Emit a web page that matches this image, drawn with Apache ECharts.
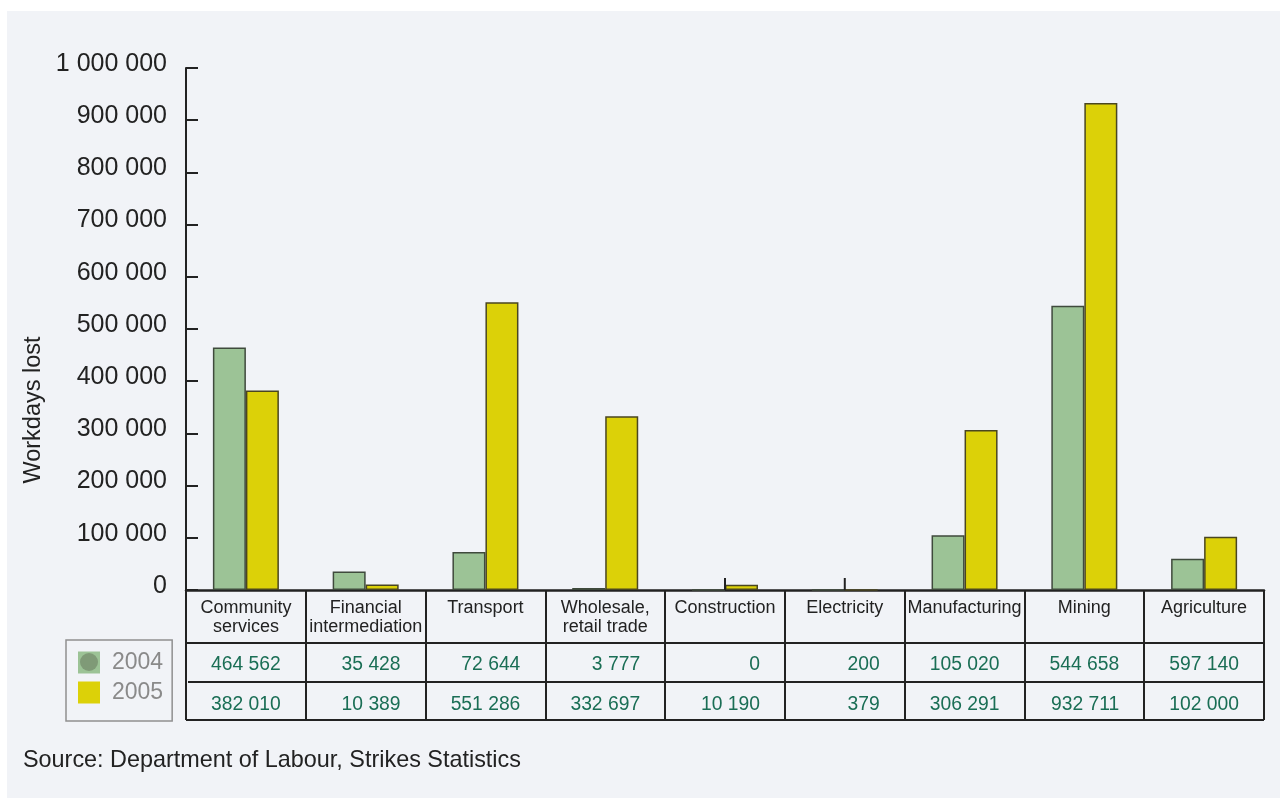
<!DOCTYPE html>
<html>
<head>
<meta charset="utf-8">
<script src="https://cdn.jsdelivr.net/npm/echarts@6/dist/echarts.min.js"></script>
<style>
html,body{margin:0;padding:0;background:#fff;}
#chart{width:1280px;height:798px;}
</style>
</head>
<body>
<div id="chart"></div>
<script>
const categories = ['Community\nservices', 'Financial\nintermediation', 'Transport', 'Wholesale,\nretail trade', 'Construction', 'Electricity', 'Manufacturing', 'Mining', 'Agriculture'];
const seriesNames = ['2004', '2005'];
const values2004 = [464562, 35428, 72644, 3777, 0, 200, 105020, 544658, 59714];
const values2005 = [382010, 10389, 551286, 332697, 10190, 379, 306291, 932711, 102000];
const table2004 = ['464 562', '35 428', '72 644', '3 777', '0', '200', '105 020', '544 658', '597 140'];
const table2005 = ['382 010', '10 389', '551 286', '332 697', '10 190', '379', '306 291', '932 711', '102 000'];
const yMin = 0, yMax = 1000000, yStep = 100000;
const yAxisTitle = 'Workdays lost';
const sourceText = 'Source: Department of Labour, Strikes Statistics';

const FONT = "'Liberation Sans', Arial, Helvetica, sans-serif";
const GREEN = '#9cc396', YELLOW = '#dcd108', DARK = '#222222', DATA = '#1a6e55';
const fmt = v => String(v).replace(/\B(?=(\d{3})+(?!\d))/g, ' ');

const chart = echarts.init(document.getElementById('chart'), null, {renderer: 'canvas'});

const stubIdx = values2004.map((v, i) => v < 1000 ? i : -1).filter(i => i >= 0);

chart.setOption({
  backgroundColor: '#ffffff',
  animation: false,
  textStyle: {fontFamily: FONT},
  grid: {left: 186, right: 16, top: 68, bottom: 208, containLabel: false},
  legend: {
    orient: 'vertical', left: 66, top: 640,
    padding: [11, 9, 17, 12],
    borderColor: '#909090', borderWidth: 1.5,
    itemWidth: 22, itemHeight: 22, itemGap: 7,
    icon: 'rect',
    itemStyle: {borderWidth: 0},
    data: seriesNames,
    textStyle: {fontSize: 23, color: '#8a8a8a', lineHeight: 16, padding: [6, 0, 0, 7], fontFamily: FONT}
  },
  xAxis: {
    type: 'category', data: categories, boundaryGap: true,
    axisLine: {show: true, lineStyle: {color: DARK, width: 2.5}},
    axisTick: {show: true, interval: 0, length: 130, lineStyle: {color: DARK, width: 2}},
    axisLabel: {interval: 0, fontSize: 18, color: DARK, lineHeight: 19, margin: 9, fontFamily: FONT},
    splitLine: {show: false}
  },
  yAxis: {
    type: 'value', min: yMin, max: yMax, interval: yStep,
    axisLine: {show: true, lineStyle: {color: DARK, width: 2}},
    axisTick: {show: true, inside: true, length: 12, lineStyle: {color: DARK, width: 2}},
    axisLabel: {fontSize: 25, color: DARK, margin: 19, verticalAlign: 'bottom', lineHeight: 8, formatter: v => fmt(v), fontFamily: FONT},
    splitLine: {show: false}
  },
  series: [
    {name: seriesNames[0], type: 'bar', data: values2004, barWidth: 33, barGap: '0%',
     itemStyle: {color: GREEN, borderColor: '#3f4a3c', borderWidth: 1.5}},
    {name: seriesNames[1], type: 'bar', data: values2005, barWidth: 33, barGap: '0%',
     itemStyle: {color: YELLOW, borderColor: '#4a4620', borderWidth: 1.5}},
    {type: 'custom', silent: true, z: 5,
     data: stubIdx.map(i => [i, 0]),
     renderItem: (params, api) => {
       const p = api.coord([api.value(0), api.value(1)]);
       return {type: 'line', shape: {x1: p[0], y1: p[1], x2: p[0], y2: p[1] - 12},
               style: {stroke: DARK, lineWidth: 2}};
     }}
  ]
});

// Build table, background, titles from axis scales
const c0 = chart.convertToPixel({xAxisIndex: 0}, 0);
const c1 = chart.convertToPixel({xAxisIndex: 0}, 1);
const colW = c1 - c0;
const yBase = chart.convertToPixel({yAxisIndex: 0}, 0);
const leftX = c0 - colW / 2;
const rightX = chart.convertToPixel({xAxisIndex: 0}, categories.length - 1) + colW / 2;

const g = [];
g.push({type: 'rect', z: -100, silent: true, shape: {x: 7, y: 11, width: 1273, height: 787}, style: {fill: '#f1f3f7'}});
[[53, leftX], [92, leftX + 2], [130, leftX]].forEach(([dy, x0]) => {
  g.push({type: 'line', shape: {x1: x0, y1: yBase + dy, x2: rightX, y2: yBase + dy}, style: {stroke: DARK, lineWidth: 2}});
});
categories.forEach((c, i) => {
  const cx = chart.convertToPixel({xAxisIndex: 0}, i);
  const rx = cx + colW / 2 - 25;
  g.push({type: 'text', style: {text: table2004[i], x: rx, y: yBase + 75, align: 'right', verticalAlign: 'middle', fontSize: 19.3, fontFamily: FONT, fill: DATA}});
  g.push({type: 'text', style: {text: table2005[i], x: rx, y: yBase + 115, align: 'right', verticalAlign: 'middle', fontSize: 19.3, fontFamily: FONT, fill: DATA}});
});
g.push({type: 'circle', z: 100, shape: {cx: 89, cy: 662, r: 9}, style: {fill: '#7f9a77'}});
g.push({type: 'text', x: 34, y: 410, rotation: Math.PI / 2,
        style: {text: yAxisTitle, align: 'center', verticalAlign: 'middle', fontSize: 23.5, fontFamily: FONT, fill: DARK}});
g.push({type: 'text', style: {text: sourceText, x: 23, y: 761, align: 'left', verticalAlign: 'middle', fontSize: 23.4, fontFamily: FONT, fill: DARK}});

chart.setOption({graphic: {elements: g}});
</script>
</body>
</html>
